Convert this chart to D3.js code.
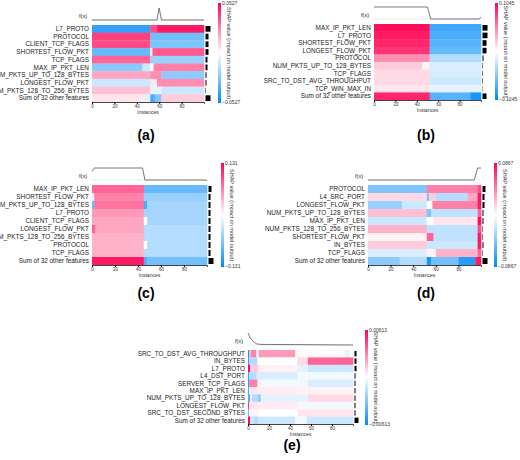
<!DOCTYPE html>
<html>
<head>
<meta charset="utf-8">
<script src="https://d3js.org/d3.v7.min.js"></script>
<style>
  body { margin:0; background:#fff; }
  text { font-family: "Liberation Sans", "DejaVu Sans", sans-serif; }
</style>
</head>
<body>
<script>
// ---- data (cells: [from, to, value normalised to -1..1]) ----
var featuresA = ["L7_PROTO","PROTOCOL","CLIENT_TCP_FLAGS","SHORTEST_FLOW_PKT","TCP_FLAGS","MAX_IP_PKT_LEN","NUM_PKTS_UP_TO_128_BYTES","LONGEST_FLOW_PKT","NUM_PKTS_128_TO_256_BYTES","Sum of 32 other features"];
var cellsA = [
  [[0,52,-0.8],[52,58,0.7],[58,100,0.9]],
  [[0,52,0.75],[52,100,-0.55]],
  [[0,52,0.7],[52,100,-0.5]],
  [[0,52,-0.6],[52,54,0.1],[54,100,0.65]],
  [[0,52,0.6],[52,100,-0.4]],
  [[0,45,-0.45],[45,52,-0.2],[52,55,0],[55,100,0.5]],
  [[0,52,0.35],[52,62,0.45],[62,100,-0.45]],
  [[0,52,-0.2],[52,58,0.1],[58,100,0.45]],
  [[0,52,0.25],[52,62,-0.1],[62,100,-0.2]],
  [[0,44,0.1],[44,52,-0.1],[52,56,-0.7],[56,62,-0.5],[62,100,0.2]]
];
var barsA = [5,3,3,3,2,2,1,1,0.5,5];
var fxA = [[0,0],[58,0],[60,1],[62,0],[100,0]];

var featuresB = ["MAX_IP_PKT_LEN","L7_PROTO","SHORTEST_FLOW_PKT","LONGEST_FLOW_PKT","PROTOCOL","NUM_PKTS_UP_TO_128_BYTES","TCP_FLAGS","SRC_TO_DST_AVG_THROUGHPUT","TCP_WIN_MAX_IN","Sum of 32 other features"];
var cellsB = [
  [[0,52,0.95],[52,100,-0.75]],
  [[0,52,0.9],[52,100,-0.7]],
  [[0,52,0.85],[52,100,-0.65]],
  [[0,52,0.8],[52,100,-0.6]],
  [[0,52,0.45],[52,100,-0.3]],
  [[0,45,0.2],[45,52,0.05],[52,100,-0.15]],
  [[0,52,0.15],[52,100,-0.15]],
  [[0,52,0.15],[52,100,-0.2]],
  [[0,52,0.1],[52,100,-0.1]],
  [[0,52,0.85],[52,90,-0.65],[90,100,-0.9]]
];
var barsB = [5,5,4,4,1,0.5,0.5,0.5,0.3,4];
var fxB = [[0,1],[50,1],[53,0],[98,0],[100,0.15]];

var featuresC = ["MAX_IP_PKT_LEN","SHORTEST_FLOW_PKT","NUM_PKTS_UP_TO_128_BYTES","L7_PROTO","CLIENT_TCP_FLAGS","LONGEST_FLOW_PKT","NUM_PKTS_128_TO_256_BYTES","PROTOCOL","TCP_FLAGS","Sum of 32 other features"];
var cellsC = [
  [[0,45,0.6],[45,100,-0.6]],
  [[0,2,0.1],[2,45,0.5],[45,100,-0.4]],
  [[0,2,-0.6],[2,45,0.55],[45,48,-0.7],[48,100,-0.35]],
  [[0,45,0.4],[45,100,-0.35]],
  [[0,45,0.35],[45,48,0],[48,100,-0.35]],
  [[0,3,0.6],[3,45,0.35],[45,100,-0.3]],
  [[0,45,0.3],[45,48,-0.3],[48,100,-0.3]],
  [[0,45,0.3],[45,48,0],[48,100,-0.3]],
  [[0,45,0.3],[45,100,-0.3]],
  [[0,45,0.9],[45,48,-0.7],[48,100,-0.55]]
];
var barsC = [3,2,2,2,2,2,2,2,2,5];
var fxC = [[0,0.7],[2,1],[44,1],[46,0],[98,0],[100,-0.05]];

var featuresD = ["PROTOCOL","L4_SRC_PORT","LONGEST_FLOW_PKT","NUM_PKTS_UP_TO_128_BYTES","MAX_IP_PKT_LEN","NUM_PKTS_128_TO_256_BYTES","SHORTEST_FLOW_PKT","IN_BYTES","TCP_FLAGS","Sum of 32 other features"];
var cellsD = [
  [[0,52,-0.5],[52,97,0.5],[97,100,0.7]],
  [[0,52,0.15],[52,54,-0.5],[54,60,0.2],[60,88,-0.3],[88,97,0.35],[97,100,0.9]],
  [[0,30,-0.4],[30,52,-0.2],[52,57,0],[57,97,0.5],[97,100,0.9]],
  [[0,52,0.25],[52,56,-0.5],[56,97,-0.25],[97,100,0.6]],
  [[0,52,-0.2],[52,58,0],[58,97,0.1],[97,100,0.95]],
  [[0,52,0.3],[52,97,-0.25],[97,100,0.7]],
  [[0,52,0.05],[52,58,0.6],[58,97,-0.25],[97,100,0.9]],
  [[0,52,0.2],[52,97,-0.2],[97,100,0.9]],
  [[0,52,-0.15],[52,60,0.05],[60,97,0.3],[97,100,0.6]],
  [[0,28,-0.45],[28,52,-0.3],[52,56,-0.9],[56,80,-0.55],[80,95,-0.85],[95,100,0.9]]
];
var barsD = [3,2,2,1,1,0.5,0.5,1,0.5,5];
var fxD = [[0,0],[94,0],[97,1],[100,1]];

var featuresE = ["SRC_TO_DST_AVG_THROUGHPUT","IN_BYTES","L7_PROTO","L4_DST_PORT","SERVER_TCP_FLAGS","MAX_IP_PKT_LEN","NUM_PKTS_UP_TO_128_BYTES","LONGEST_FLOW_PKT","SRC_TO_DST_SECOND_BYTES","Sum of 32 other features"];
var cellsE = [
  [[0,1,-0.9],[1,3,0.3],[3,8,0.5],[8,10,0],[10,45,0.4],[45,92,0.02],[92,97,-0.1],[97,100,0]],
  [[0,1,-0.8],[1,9,-0.3],[9,47,0],[47,57,0.15],[57,100,0.6]],
  [[0,2,0.95],[2,10,0.2],[10,47,0.05],[47,57,-0.1],[57,100,-0.2]],
  [[0,1,-0.8],[1,8,-0.3],[8,47,-0.15],[47,100,-0.05]],
  [[0,1,-0.8],[1,9,0.5],[9,57,-0.05],[57,100,-0.15]],
  [[0,1,-0.7],[1,10,0.1],[10,47,0.08],[47,100,0.05]],
  [[0,2,-0.7],[2,4,0.1],[4,10,-0.3],[10,12,-0.5],[12,57,-0.1],[57,100,0.15]],
  [[0,1,0.8],[1,10,0.1],[10,47,0.08],[47,100,-0.05]],
  [[0,1,-0.6],[1,10,0.05],[10,47,0],[47,100,0.1]],
  [[0,2,0.95],[2,5,-0.2],[5,10,-0.3],[10,45,-0.2],[45,56,-0.05],[56,100,-0.2]]
];
var barsE = [2,2,2,1,1,1,1,1,1,4];
var fxE = [[0,1],[2,0.6],[5,0.3],[8,0.1],[12,0.05],[100,0]];

var ranges = ["0.0527","0.1045","0.131","0.0867","0.00613"];
var captions = ["(a)","(b)","(c)","(d)","(e)"];
var ticks = [0,20,40,60,80];

// layout of each panel: heatmap box, colorbar x/y range, caption position
var panels = [
  {f:featuresA, c:cellsA, b:barsA, fx:fxA, x0:92,  x1:204, y0:25,  y1:102, cbx:218, cb0:3,   cb1:103, capx:146, capy:140},
  {f:featuresB, c:cellsB, b:barsB, fx:fxB, x0:374, x1:481, y0:24,  y1:100, cbx:495, cb0:3,   cb1:100, capx:426, capy:140},
  {f:featuresC, c:cellsC, b:barsC, fx:fxC, x0:92,  x1:207, y0:185, y1:265, cbx:221, cb0:163, cb1:267, capx:146, capy:298},
  {f:featuresD, c:cellsD, b:barsD, fx:fxD, x0:368, x1:481, y0:185, y1:265, cbx:494, cb0:163, cb1:267, capx:426, capy:298},
  {f:featuresE, c:cellsE, b:barsE, fx:fxE, x0:248, x1:353, y0:350, y1:424, cbx:365, cb0:330, cb1:425, capx:292, capy:450}
];

var color = d3.scaleLinear().domain([-1,0,1])
  .range(["rgb(0,138,250)","#ffffff","rgb(255,0,82)"]).interpolate(d3.interpolateRgb);

var svg = d3.select("body").append("svg").attr("width",520).attr("height",460);
var defs = svg.append("defs");
var grad = defs.append("linearGradient").attr("id","cb").attr("x1",0).attr("x2",0).attr("y1",1).attr("y2",0);
[-1,-0.5,0,0.5,1].forEach(function(v){
  grad.append("stop").attr("offset",(v+1)/2).attr("stop-color",color(v));
});

panels.forEach(function(p,i){
  var g = svg.append("g");
  var x = d3.scaleLinear().domain([0,100]).range([p.x0,p.x1]);
  var y = d3.scaleBand().domain(p.f).range([p.y0,p.y1]);

  // heatmap cells
  p.c.forEach(function(row,r){
    g.selectAll(null).data(row).enter().append("rect")
      .attr("x",function(d){return x(d[0]);})
      .attr("width",function(d){return x(d[1])-x(d[0])+0.3;})
      .attr("y",y(p.f[r])).attr("height",y.bandwidth()+0.3)
      .attr("fill",function(d){return color(d[2]);});
  });

  // feature labels
  g.selectAll(null).data(p.f).enter().append("text")
    .attr("x",p.x0-3).attr("y",function(d){return y(d)+y.bandwidth()/2;})
    .attr("dy","0.35em").attr("text-anchor","end").attr("font-size",6.4).attr("fill","#222")
    .text(function(d){return d;});

  // importance bars
  g.selectAll(null).data(p.b).enter().append("rect")
    .attr("x",p.x1+1.5).attr("width",function(d){return d;})
    .attr("y",function(d,k){return y(p.f[k])+1;}).attr("height",y.bandwidth()-2)
    .attr("fill","#000");

  // x axis
  var ax = g.append("g").attr("transform","translate(0,"+p.y1+")")
    .call(d3.axisBottom(x).tickValues(ticks).tickSize(2).tickPadding(1));
  ax.select(".domain").attr("stroke","#444");
  ax.selectAll("text").attr("font-size",4.5).attr("fill","#333");
  g.append("text").attr("x",(p.x0+p.x1)/2).attr("y",p.y1+12)
    .attr("text-anchor","middle").attr("font-size",5).attr("fill","#333").text("Instances");

  // f(x) line
  var fy = d3.scaleLinear().domain([0,1]).range([p.y0-5,p.y0-17]);
  g.append("line").attr("x1",p.x0).attr("x2",p.x1).attr("y1",fy(0)).attr("y2",fy(0))
    .attr("stroke","#ddd").attr("stroke-width",0.6);
  g.append("path").datum(p.fx)
    .attr("d",d3.line().x(function(d){return x(d[0]);}).y(function(d){return fy(d[1]);}))
    .attr("fill","none").attr("stroke","#555").attr("stroke-width",0.8);
  g.append("text").attr("x",p.x0-5).attr("y",fy(0.35)).attr("dy","0.35em")
    .attr("text-anchor","end").attr("font-size",5.5).attr("fill","#222").text("f(x)");

  // colorbar
  g.append("rect").attr("x",p.cbx).attr("y",p.cb0).attr("width",3).attr("height",p.cb1-p.cb0)
    .attr("fill","url(#cb)");
  g.append("text").attr("x",p.cbx+4).attr("y",p.cb0+2).attr("font-size",5).attr("fill","#333").text(ranges[i]);
  g.append("text").attr("x",p.cbx+4).attr("y",p.cb1+1).attr("font-size",5).attr("fill","#333").text("\u2212"+ranges[i]);
  g.append("text").attr("transform","translate("+(p.cbx+9)+","+((p.cb0+p.cb1)/2)+") rotate(90)")
    .attr("text-anchor","middle").attr("font-size",5.5).attr("fill","#333")
    .text("SHAP value (impact on model output)");

  // caption
  g.append("text").attr("x",p.capx).attr("y",p.capy).attr("text-anchor","middle")
    .attr("font-family","Liberation Serif, serif").attr("font-weight","bold").attr("font-size",14)
    .text(captions[i]);
});
</script>
</body>
</html>
